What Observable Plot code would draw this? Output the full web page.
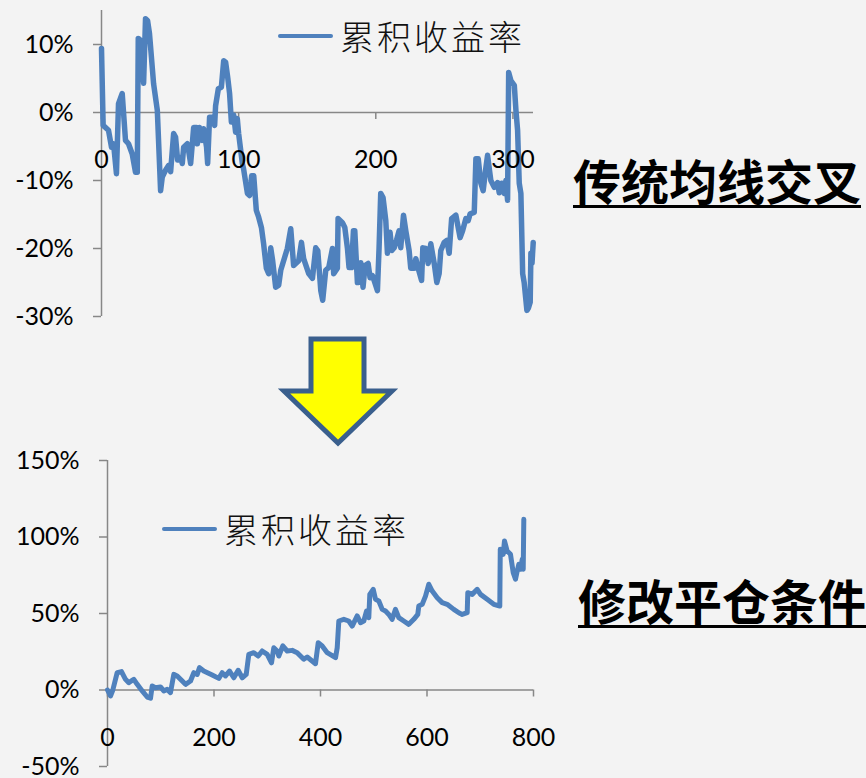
<!DOCTYPE html>
<html>
<head>
<meta charset="utf-8">
<script src="https://cdn.jsdelivr.net/npm/d3@7"></script>
<script src="https://cdn.jsdelivr.net/npm/@observablehq/plot@0.6"></script>
<style>
  html, body { margin: 0; padding: 0; background: #f3f3f3; }
  #wrap { position: relative; width: 866px; height: 778px; overflow: hidden; background: #f3f3f3; }
  .chart { position: absolute; left: 0; }
  .legend { position: absolute; display: flex; align-items: center; height: 34px;
            font-family: "Noto Sans CJK SC", sans-serif; font-weight: 300; font-size: 34px; line-height: 34px;
            letter-spacing: 3px; color: #111; white-space: nowrap; }
  .legend .sw { width: 55px; height: 4.5px; background: #4F81BD; margin-right: 7px; border-radius: 2px; }
  .title { position: absolute; font-family: "Noto Sans CJK SC", sans-serif; font-weight: 700; font-size: 48px;
           line-height: 48px; height: 48px; padding-bottom: 2px; border-bottom: 3px solid #000; color: #000;
           white-space: nowrap; }
  #arrow { position: absolute; left: 0; top: 0; }
</style>
</head>
<body>
<div id="wrap">
  <div id="top" class="chart" style="top:0px"></div>
  <div id="bottom" class="chart" style="top:440px"></div>
  <div class="legend" id="legTop" style="left:278px; top:19px"><div class="sw"></div><span></span></div>
  <div class="legend" id="legBottom" style="left:162px; top:512px"><div class="sw"></div><span></span></div>
  <div class="title" id="titleTop" style="left:573px; top:155px"></div>
  <div class="title" id="titleBottom" style="left:578px; top:575px"></div>
  <svg id="arrow" width="866" height="778">
    <polygon points="311,339 364,339 364,391 392,391 338,443 284,391 311,391"
             fill="#FFFF00" stroke="#3A5F8D" stroke-width="5" stroke-linejoin="miter"/>
  </svg>
</div>
<script>
// ---- labels ----
const seriesName = "累积收益率";
const titleTopText = "传统均线交叉";
const titleBottomText = "修改平仓条件";

// ---- top chart: [day index, cumulative return %] ----
const topSeries = [
  [0,9.4],[1.2,-1.9],[5.1,-2.6],[7.3,-5.1],[8.8,-4.6],[10.9,-9.0],[12.4,1.3],[15.1,2.8],[17.5,-4.1],[19.7,-4.6],
  [22.4,-6.1],[24.8,-8.8],[26.1,-8.8],[26.8,10.9],[28.5,10.6],[30.7,4.3],[32.1,13.8],[33.6,13.5],[35,11.6],[38,4.2],
  [40.7,0.3],[43.1,-11.5],[44.3,-9.5],[46.7,-8.5],[48.9,-7.8],[50.4,-8.7],[52.6,-3.1],[54,-3.6],[55.5,-7],[57.7,-6.6],
  [58.9,-7.5],[59.9,-5.1],[62.6,-4.6],[63.5,-5.6],[65,-7.5],[67.2,-2.2],[69.3,-2.2],[69.9,-4.6],[71.5,-2.2],[73.5,-4.1],
  [74.5,-2.4],[76.6,-5.1],[77.4,-7.5],[78.8,-0.7],[80.8,-0.7],[82.5,-1.9],[83.2,1.0],[85.2,3.5],[87.4,3.7],[89.1,7.6],
  [90.5,7.4],[92,5.2],[93.4,2.8],[94.7,-1.4],[96.4,-0.4],[97.8,-2.9],[99,-0.9],[100,-3.1],[102.7,-7.5],[103.6,-8.3],
  [106.4,-11.9],[108,-12.2],[109.5,-9.3],[111,-9.3],[112.9,-14.4],[114.6,-15.4],[116.6,-16.9],[118.2,-19.3],[120.2,-22.9],[121.9,-23.7],
  [123.4,-19.9],[124.8,-21.8],[127,-25.7],[129.2,-25.4],[130.7,-23.2],[132.8,-21.8],[135.5,-20],[138,-17.1],[140.1,-22.5],[143.8,-21.8],
  [145.8,-19.1],[147.4,-21.5],[151.1,-23.7],[153.8,-24.4],[156.2,-19.9],[157.7,-20.3],[159.9,-26.2],[161.3,-27.6],[163.5,-23.2],[165.7,-22.8],
  [168.4,-20],[169.3,-23.7],[172,-22.9],[172.5,-15.6],[175.7,-16.2],[177.4,-16.9],[179.3,-19.9],[180.5,-22.8],[182.3,-22.8],[183.7,-17.4],
  [184.7,-17.4],[186.6,-25],[187.6,-25],[189.1,-22.1],[190.7,-25.7],[192.2,-22.5],[194.4,-22.2],[195.8,-24.3],[197.6,-24],[199.3,-25],
  [201.2,-26.2],[202.4,-19.9],[203.6,-11.9],[205.3,-12.5],[207.3,-15.9],[208.5,-20.7],[210.4,-17.6],[211.7,-20.3],[213.4,-19.9],[215.1,-18.8],
  [217,-17.4],[218.2,-19.9],[220.2,-15.1],[221.9,-17.4],[224.3,-20.3],[225.5,-22.9],[228,-22.9],[229.2,-21.5],[230.9,-22.9],[233.4,-24.7],
  [234.3,-19.9],[236.5,-20],[238.2,-22.2],[240.1,-19.3],[242.6,-22.2],[244.5,-25],[246.2,-23.7],[247.4,-20.3],[249.9,-19.1],[251.8,-18.8],
  [253.5,-20.7],[255.3,-15.6],[258.4,-15.1],[261.5,-18.4],[263.3,-17.4],[265.7,-15.6],[267.4,-15.9],[268.8,-14.9],[271.8,-14.7],[273,-6.8],
  [274.7,-6.8],[276.6,-10.4],[278.3,-11.5],[280.3,-8.1],[281.5,-6.3],[283.9,-10],[286.4,-11],[288.8,-10.3],[290,-11.8],[291.8,-10.4],
  [293.6,-11.9],[294.9,-10],[296.1,-12.9],[296.9,5.9],[298.5,4.7],[301,4.0],[302.2,0.3],[303.4,-2.6],[304.6,-10.4],[305.8,-11.9],
  [307.1,-23.7],[308.2,-25],[310.2,-29.1],[311.2,-28.8],[312.6,-27.9],[313.1,-20.7],[313.9,-22.2],[314.8,-19.1]
];
const topXTicks = [0, 100, 200, 300];
const topYTicks = [-30, -20, -10, 0, 10];
const topXDomain = [0, 315];
const topYDomain = [-30, 15];

// ---- bottom chart: [day index, cumulative return %] ----
const bottomSeries = [
  [0,0],[5.6,-3.9],[10,0],[18.2,11.3],[26.3,12],[33.8,7],[40,4.8],[49.4,7],[55.8,3.7],[65.2,-0.6],
  [74.6,-4.6],[80.8,-5.4],[83.9,2.6],[90.1,1.5],[99.5,2],[105.7,-0.6],[112.1,0.4],[118.3,-1.7],[124.5,10.2],[130.9,9.2],
  [146.5,3.7],[155.9,5.9],[162.1,11.3],[168.5,10.2],[172.8,14.6],[180.8,12.4],[196.6,9.8],[209,7.6],[215.4,11.3],[221.6,9.2],
  [229.1,12.4],[237.2,8],[245.4,12.9],[253,8],[260.5,10.2],[265.4,23.3],[274.7,24.4],[283,22.2],[290.5,25.5],[299.9,23.3],
  [308,17.8],[312.3,27.6],[318.7,25.5],[321.7,22.2],[329.2,28.8],[337.5,25.5],[346.9,25.9],[356.2,24.4],[368.6,20.1],[375,21.6],
  [390.6,17.2],[395.7,30.9],[403.2,28.8],[412.6,24.4],[428.2,21.1],[431.4,27.6],[434.4,45.1],[443.8,46.2],[453.1,45.1],[459.5,41.8],
  [465.7,46.2],[468.9,48.4],[475.1,44],[481.3,45.1],[486.4,51.6],[490.7,47.3],[492.6,62.5],[499,65.8],[503.3,59.3],[509.5,58.2],
  [515.9,52.7],[522.1,51.6],[528.3,49.4],[534.6,46.2],[540.8,52.7],[547,47.3],[556.4,45.1],[565.8,42.9],[575.2,46.2],[582.7,49.4],
  [584.6,54.9],[591,56],[597.2,61.4],[603.4,69.1],[609.8,64.7],[619.2,60.3],[628.5,57.1],[637.9,56],[650.3,52.7],[659.7,50.5],
  [666.1,49.4],[675.5,50.5],[676.6,63.6],[684.9,62.5],[694.3,65.8],[700.5,62.5],[713,59.3],[725.4,56],[736.7,54.9],[737.6,92],
  [743.1,88.7],[745.5,97.4],[750.6,90.8],[756.8,88.7],[761.9,76.7],[766.2,72.4],[769.4,77.8],[772.4,82.1],[775.6,78.9],[778.8,85.4],
  [780.7,78.9],[781.8,111.6]
];
const bottomXTicks = [0, 200, 400, 600, 800];
const bottomYTicks = [-50, 0, 50, 100, 150];
const bottomXDomain = [0, 800];
const bottomYDomain = [-50, 150];

const LINE = "#4F81BD";
const AXIS = "#878787";
const FONT = "Lato, 'Open Sans', sans-serif";

function chart(series, xTicks, yTicks, xDomain, yDomain, opts) {
  const data = series.map(([x, y]) => ({x, y}));
  return Plot.plot({
    width: 545, height: opts.height,
    marginLeft: opts.marginLeft, marginRight: 12, marginTop: opts.marginTop, marginBottom: opts.marginBottom,
    style: {background: "transparent", fontFamily: FONT, fontSize: "25px", overflow: "visible", color: "#000"},
    x: {domain: xDomain, axis: null, label: null},
    y: {domain: yDomain, label: null},
    marks: [
      Plot.axisY(yTicks, {tickSize: 8, tickPadding: 20, tickFormat: d => d + "%", fontSize: 25,
                          stroke: AXIS, strokeWidth: 1.5, fill: "#000", label: null}),
      Plot.ruleX([0], {y1: yDomain[0], y2: yDomain[1], stroke: AXIS, strokeWidth: 1.5}),
      Plot.ruleY([0], {x1: xDomain[0], x2: xDomain[1], stroke: AXIS, strokeWidth: 1.5}),
      Plot.ruleX(xTicks, {x: d => d, y1: 0, y2: 0, insetBottom: -7, stroke: AXIS, strokeWidth: 1.5}),
      Plot.line(data, {x: "x", y: "y", stroke: LINE, strokeWidth: opts.lineWidth, strokeLinejoin: "round", strokeLinecap: "round"}),
      Plot.text(xTicks, {x: d => d, y: 0, dy: opts.labelDy, text: d => String(d), fontSize: 25, fill: "#000", fontFamily: FONT})
    ]
  });
}

document.getElementById("top").append(
  chart(topSeries, topXTicks, topYTicks, topXDomain, topYDomain,
        {height: 330, marginLeft: 101, marginTop: 10, marginBottom: 14, lineWidth: 5.5, labelDy: 47}));
document.getElementById("bottom").append(
  chart(bottomSeries, bottomXTicks, bottomYTicks, bottomXDomain, bottomYDomain,
        {height: 338, marginLeft: 107, marginTop: 20, marginBottom: 12, lineWidth: 5, labelDy: 48}));

document.querySelector("#legTop span").textContent = seriesName;
document.querySelector("#legBottom span").textContent = seriesName;
document.getElementById("titleTop").textContent = titleTopText;
document.getElementById("titleBottom").textContent = titleBottomText;
</script>
</body>
</html>
